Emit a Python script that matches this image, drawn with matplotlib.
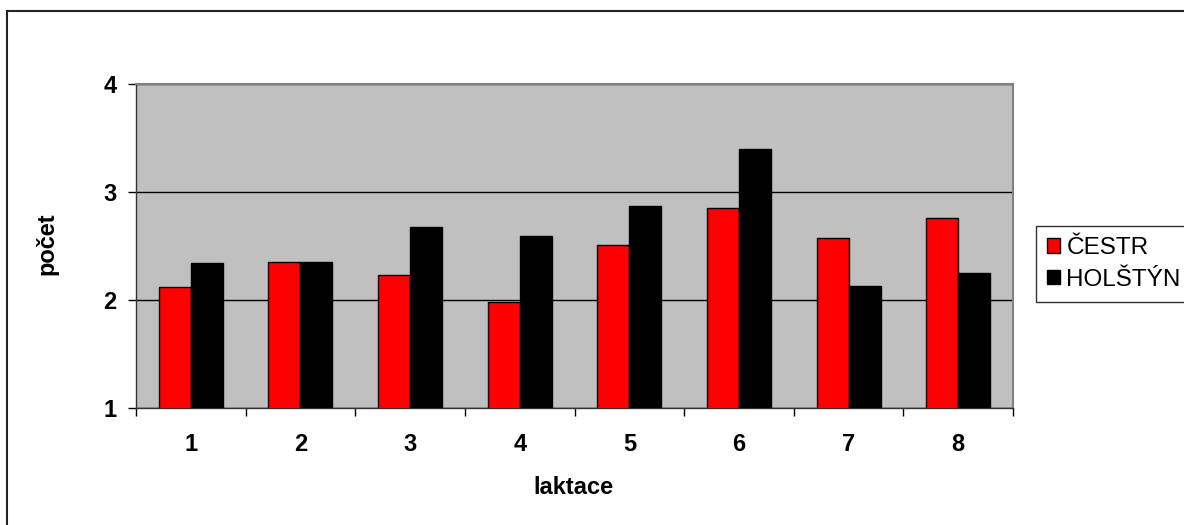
import matplotlib.pyplot as plt
import numpy as np
from matplotlib.lines import Line2D

plt.rcParams['font.family'] = ['Liberation Sans', 'DejaVu Sans']

# pocty podle laktace
laktace = ['1', '2', '3', '4', '5', '6', '7', '8']
cestr = [2.12, 2.35, 2.23, 1.98, 2.51, 2.85, 2.58, 2.76]
holstyn = [2.34, 2.35, 2.68, 2.59, 2.87, 3.40, 2.13, 2.25]

W, H = 1184, 525
fig = plt.figure(figsize=(W / 100, H / 100), dpi=100)
ax = fig.add_axes([136 / W, 1 - 408.3 / H, (1013 - 136) / W, (408.3 - 84) / H])
ax.set_facecolor('#C0C0C0')

x = np.arange(len(laktace))
sirka = 0.292
b1 = ax.bar(x - sirka / 2, cestr, sirka, bottom=0, color='#FF0000',
            edgecolor='black', linewidth=1, label='ČESTR', zorder=3)
b2 = ax.bar(x + sirka / 2, holstyn, sirka, bottom=0, color='black',
            edgecolor='black', linewidth=1, label='HOLŠTÝN', zorder=3)

ax.set_ylim(1, 4)
ax.set_xlim(-0.5, len(laktace) - 0.5)
ax.set_yticks([1, 2, 3, 4])
ax.set_yticklabels(['1', '2', '3', '4'], fontsize=17, fontweight='bold')
ax.set_xticks(x)
ax.set_xticklabels(laktace, fontsize=17, fontweight='bold')
ax.set_xticks(np.arange(len(laktace) + 1) - 0.5, minor=True)
ax.tick_params(axis='x', which='major', length=0, pad=18)
ax.tick_params(axis='x', which='minor', length=6, width=1, direction='out', color='black')
ax.tick_params(axis='y', length=6, width=1, direction='out', pad=8, color='black')

ax.grid(axis='y', color='black', linewidth=1, zorder=1)
ax.set_axisbelow(True)
for s in ['top', 'right']:
    ax.spines[s].set_color('#808080')
    ax.spines[s].set_linewidth(1.5)
for s in ['left', 'bottom']:
    ax.spines[s].set_color('#333333')
    ax.spines[s].set_linewidth(1)

fig.text(47 / W, 1 - 244 / H, 'počet', rotation=90, ha='center', va='center',
         fontsize=17, fontweight='bold')
fig.text(573 / W, 1 - 487 / H, 'laktace', ha='center', va='center',
         fontsize=17, fontweight='bold')

leg = fig.legend(handles=[b1, b2], loc='upper left',
                 bbox_to_anchor=(1036 / W, 1 - 226 / H), fontsize=17.5,
                 frameon=True, fancybox=False, edgecolor='black',
                 handlelength=0.55, handleheight=0.55, handletextpad=0.25,
                 borderpad=0.45, labelspacing=0.4, borderaxespad=0)
leg.get_frame().set_linewidth(1)

# ramecek grafu
fig.add_artist(Line2D([7 / W, 1], [1 - 10.7 / H, 1 - 10.7 / H],
                      transform=fig.transFigure, color='#222222', linewidth=1.5))
fig.add_artist(Line2D([7 / W, 7 / W], [0, 1 - 10.7 / H],
                      transform=fig.transFigure, color='#222222', linewidth=1.5))

fig.savefig('out.png', dpi=100)
